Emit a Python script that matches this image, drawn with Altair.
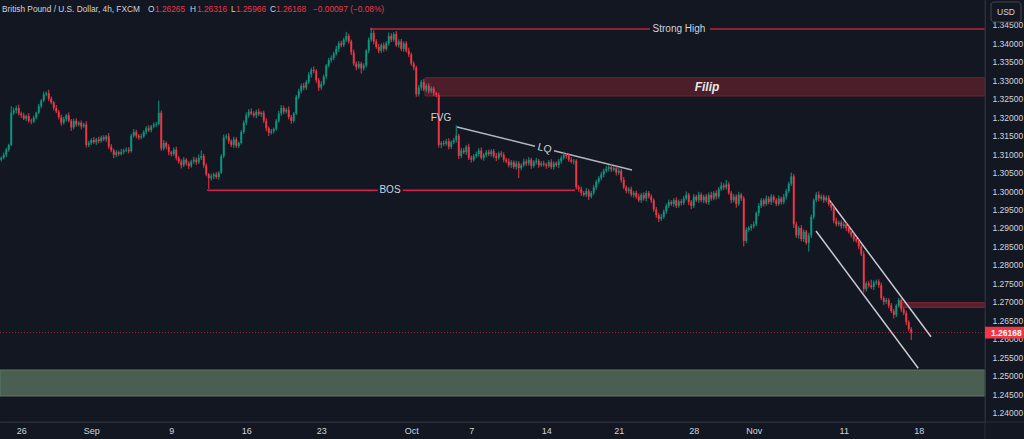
import json
import altair as alt
import pandas as pd

BG = "#131722"
UP = "#089981"
DN = "#f23645"
TXT = "#d1d4dc"
GRID = "#2a2e39"
FONT = "Liberation Sans"

# ---------------- candle data (pips above 1.2000) ----------------
first_open = 1085
closes = [
    1090, 1098, 1112, 1125, 1212, 1218, 1225, 1210, 1205, 1196,   # 0-9
    1203, 1190, 1188, 1199, 1212, 1230, 1245, 1262, 1265, 1250,   # 10-19
    1240, 1225, 1215, 1200, 1185, 1195, 1205, 1190, 1172, 1190,   # 20-29
    1180, 1185, 1175, 1180, 1125, 1130, 1138, 1132, 1140, 1135,   # 30-39
    1145, 1140, 1148, 1120, 1110, 1098, 1105, 1100, 1106, 1110,   # 40-49
    1112, 1108, 1150, 1160, 1150, 1145, 1148, 1160, 1170, 1165,   # 50-59
    1175, 1180, 1182, 1212, 1115, 1130, 1120, 1105, 1100, 1112,   # 60-69
    1090, 1080, 1070, 1085, 1075, 1068, 1080, 1085, 1078, 1090,   # 70-79
    1095, 1070, 1045, 1035, 1040, 1045, 1038, 1050, 1095, 1145,   # 80-89
    1148, 1135, 1125, 1140, 1122, 1130, 1160, 1185, 1205, 1215,   # 90-99
    1210, 1205, 1215, 1208, 1212, 1190, 1170, 1158, 1162, 1168,   # 100-109
    1190, 1210, 1225, 1215, 1220, 1200, 1190, 1210, 1255, 1270,   # 110-119
    1285, 1280, 1295, 1315, 1328, 1325, 1300, 1280, 1290, 1310,   # 120-129
    1340, 1355, 1360, 1372, 1385, 1400, 1395, 1410, 1420, 1405,   # 130-139
    1375, 1345, 1335, 1345, 1332, 1340, 1380, 1410, 1428, 1405,   # 140-149
    1390, 1380, 1395, 1385, 1400, 1420, 1410, 1425, 1395, 1405,   # 150-159
    1385, 1400, 1380, 1370, 1345, 1335, 1262, 1280, 1295, 1275,   # 160-169
    1285, 1270, 1278, 1265, 1260, 1125, 1130, 1128, 1135, 1120,   # 170-179
    1132, 1138, 1150, 1095, 1110, 1105, 1120, 1090, 1085, 1095,   # 180-189
    1100, 1110, 1090, 1098, 1105, 1100, 1108, 1095, 1090, 1102,   # 190-199
    1098, 1085, 1080, 1070, 1078, 1065, 1075, 1062, 1070, 1080,   # 200-209
    1075, 1085, 1068, 1078, 1082, 1070, 1075, 1072, 1068, 1078,   # 210-219
    1065, 1075, 1070, 1080, 1090, 1098, 1095, 1085, 1080, 1082,   # 220-229
    1010, 1005, 995, 990, 1000, 985, 995, 1010, 1025, 1035,       # 230-239
    1045, 1055, 1060, 1065, 1058, 1062, 1050, 1055, 1030, 1010,   # 240-249
    1000, 1005, 990, 995, 985, 975, 990, 980, 995, 985,           # 250-259
    975, 950, 935, 925, 930, 945, 960, 970, 965, 975,             # 260-269
    960, 972, 968, 980, 990, 970, 960, 985, 975, 990,             # 270-279
    975, 985, 970, 990, 980, 995, 985, 1005, 1015, 1010,          # 280-289
    1018, 995, 975, 985, 965, 990, 980, 865, 895, 900,            # 290-299
    905, 910, 940, 960, 975, 965, 980, 970, 985, 975,             # 300-309
    965, 980, 970, 985, 1000, 1020, 1040, 910, 880, 900,          # 310-319
    870, 890, 860, 880, 930, 975, 990, 980, 985, 975,             # 320-329
    982, 965, 955, 920, 910, 915, 905, 910, 900, 890,             # 330-339
    880, 870, 865, 850, 830, 735, 750, 745, 740, 752,             # 340-349
    755, 745, 710, 700, 705, 690, 675, 665, 690, 705,             # 350-359
    680, 670, 645, 626.5, 616.8,                                  # 360-364
]
upper_wick = [
    4, 6, 5, 3, 18, 8, 6, 9, 5, 7,
    4, 8, 6, 5, 3, 6, 4, 7, 5, 9,
    6, 4, 8, 5, 7, 6, 4, 8, 5, 6,
    7, 4, 6, 5, 9, 6, 5, 8, 4, 7,
    5, 6, 4, 9, 7, 5, 6, 4, 8, 5,
    6, 7, 5, 8, 6, 4, 7, 5, 6, 8,
    4, 6, 5, 33, 6, 8, 5, 7, 4, 6,
    8, 5, 6, 7, 4, 6, 5, 8, 6, 9,
    15, 6, 5, 4, 7, 5, 6, 4, 5, 8,
    6, 9, 5, 7, 6, 4, 5, 6, 8, 7,
    9, 6, 5, 8, 4, 6, 7, 5, 6, 4,
    5, 7, 8, 6, 5, 9, 6, 4, 5, 7,
    6, 8, 5, 7, 6, 9, 5, 6, 7, 5,
    4, 6, 7, 5, 8, 6, 7, 5, 11, 6,
    5, 8, 6, 7, 5, 6, 4, 6, 14, 7,
    6, 8, 5, 7, 6, 9, 7, 5, 8, 6,
    7, 5, 6, 8, 5, 6, 4, 7, 6, 8,
    5, 7, 6, 5, 4, 6, 5, 7, 6, 8,
    5, 6, 28, 5, 7, 6, 5, 8, 6, 5,
    7, 6, 8, 5, 6, 7, 5, 6, 8, 5,
    6, 7, 5, 8, 6, 5, 7, 6, 5, 8,
    6, 7, 5, 6, 8, 5, 6, 7, 5, 6,
    8, 6, 5, 7, 6, 9, 5, 6, 7, 5,
    4, 6, 7, 5, 8, 6, 5, 7, 6, 5,
    7, 6, 8, 5, 9, 6, 5, 7, 6, 8,
    5, 6, 7, 5, 6, 8, 5, 7, 6, 5,
    6, 5, 7, 6, 8, 5, 6, 7, 5, 6,
    8, 5, 6, 7, 9, 5, 6, 7, 5, 8,
    6, 5, 7, 6, 8, 5, 7, 6, 9, 6,
    12, 6, 5, 7, 6, 8, 5, 6, 7, 5,
    6, 8, 5, 7, 6, 5, 8, 6, 7, 5,
    6, 8, 5, 7, 6, 5, 10, 6, 7, 5,
    8, 6, 5, 7, 6, 5, 7, 9, 6, 5,
    6, 7, 5, 6, 8, 5, 6, 7, 5, 6,
    5, 7, 6, 5, 6, 8, 5, 7, 15, 6,
    5, 6, 7, 5, 6, 5, 7, 6, 5, 6,
    6, 5, 6, 5, 5.1,
]
lower_wick = [
    5, 4, 6, 5, 3, 6, 8, 5, 7, 4,
    6, 5, 7, 4, 5, 3, 6, 4, 5, 6,
    5, 7, 4, 6, 8, 5, 6, 4, 9, 5,
    6, 5, 8, 4, 7, 6, 5, 4, 7, 6,
    4, 5, 7, 6, 5, 9, 6, 5, 4, 7,
    5, 6, 4, 5, 7, 6, 5, 4, 6, 5,
    6, 5, 7, 4, 6, 5, 7, 8, 6, 5,
    7, 6, 9, 5, 6, 8, 5, 6, 7, 5,
    6, 7, 5, 29, 6, 8, 5, 7, 4, 6,
    5, 7, 6, 8, 5, 6, 4, 5, 6, 7,
    5, 6, 8, 5, 7, 6, 8, 9, 5, 6,
    4, 5, 6, 7, 5, 6, 8, 5, 4, 6,
    5, 7, 6, 5, 8, 6, 7, 9, 6, 5,
    6, 5, 7, 6, 5, 8, 6, 5, 7, 6,
    7, 6, 8, 5, 14, 6, 5, 7, 6, 8,
    5, 7, 6, 8, 5, 6, 7, 6, 5, 7,
    6, 8, 5, 7, 6, 8, 7, 6, 8, 5,
    7, 6, 5, 8, 6, 7, 9, 6, 5, 7,
    6, 5, 7, 8, 6, 5, 7, 6, 8, 5,
    6, 7, 5, 8, 6, 5, 7, 6, 9, 5,
    6, 7, 5, 6, 8, 5, 7, 27, 6, 5,
    7, 6, 8, 5, 6, 7, 5, 6, 8, 5,
    6, 7, 5, 8, 6, 5, 7, 6, 5, 8,
    6, 7, 8, 5, 6, 9, 5, 6, 7, 5,
    6, 8, 5, 7, 6, 5, 8, 6, 7, 5,
    6, 7, 5, 8, 6, 5, 7, 6, 8, 5,
    7, 6, 8, 9, 6, 5, 7, 6, 5, 8,
    6, 5, 7, 6, 5, 8, 9, 6, 5, 7,
    6, 8, 5, 7, 6, 5, 8, 6, 5, 7,
    6, 5, 8, 6, 10, 5, 7, 15, 6, 5,
    7, 6, 5, 8, 6, 7, 5, 6, 8, 7,
    6, 5, 7, 6, 8, 5, 6, 10, 7, 9,
    6, 8, 5, 24, 7, 6, 5, 8, 6, 7,
    5, 6, 8, 7, 6, 5, 7, 6, 8, 5,
    6, 7, 5, 8, 6, 10, 7, 6, 5, 8,
    6, 7, 5, 8, 6, 7, 5, 10, 6, 5,
    7, 6, 8, 6, 20.2,
]

# ---------------- axis data ----------------
tick_idx = [8, 36, 68, 98, 128, 164, 188, 218, 247, 277, 301, 337, 367]
tick_lbl = ["26", "Sep", "9", "16", "23", "Oct", "7", "14", "21", "28", "Nov", "11", "18"]
price_ticks = [1.240, 1.245, 1.250, 1.255, 1.260, 1.265, 1.270, 1.275, 1.280, 1.285,
               1.290, 1.295, 1.300, 1.305, 1.310, 1.315, 1.320, 1.325, 1.330, 1.335,
               1.340, 1.345]
last_price = 1.26168

# ---------------- annotation data (index, price) ----------------
strong_high_x0 = [147.5, 283.5]
strong_high_x1 = [259.5, 393.5]
strong_high_p = 1.34387
bos_x0 = [82.3, 160.6]
bos_x1 = [150.6, 229.5]
bos_p = 1.30020
lq_x0 = [182.3, 221.1]
lq_p0 = [1.31734, 1.31090]
lq_x1 = [213.5, 252.3]
lq_p1 = [1.31214, 1.30570]
ch_x0 = [331.2, 325.9]
ch_p0 = [1.29758, 1.28919]
ch_x1 = [371.9, 366.8]
ch_p1 = [1.26057, 1.25202]
filip_zone = dict(x0=169.5, x1=393.5, p0=1.32573, p1=1.33069)
small_zone = dict(x0=359.5, x1=393.5, p0=1.26853, p1=1.26978)
green_zone = dict(x0=-0.5, x1=393.5, p0=1.24452, p1=1.25156)
labels_txt = ["Strong High", "BOS", "FVG"]
labels_x = [271.1, 155.5, 175.9]
labels_p = [1.34387, 1.30020, 1.31978]

# ---------------- build tables ----------------
opens = [first_open] + closes[:-1]
rows = []
for k in range(len(closes)):
    o, c = opens[k], closes[k]
    rows.append({
        "i": k,
        "open": 1.2 + o / 1e4,
        "close": 1.2 + c / 1e4,
        "high": 1.2 + (max(o, c) + upper_wick[k]) / 1e4,
        "low": 1.2 + (min(o, c) - lower_wick[k]) / 1e4,
        "dir": "up" if c >= o else "down",
        "b0": k - 0.38,
        "b1": k + 0.38,
    })
df = pd.DataFrame(rows)

xscale = alt.Scale(domain=[-0.5, 393.5], nice=False, zero=False)
yscale = alt.Scale(domain=[1.23748, 1.35172], nice=False, zero=False)
label_expr = f"{json.dumps(tick_lbl)}[indexof({json.dumps(tick_idx)}, datum.value)]"
xaxis = alt.Axis(values=tick_idx, labelExpr=label_expr, grid=False, ticks=False,
                 domainColor=GRID, labelColor=TXT, labelFont=FONT, labelFontSize=9,
                 labelPadding=4, title=None, labelOverlap=False, labelFlush=False, zindex=0)
yaxis = alt.Axis(orient="right", values=price_ticks, format=".5f", grid=False, ticks=False,
                 domainColor=GRID, labelColor=TXT, labelFont=FONT, labelFontSize=8.5,
                 labelPadding=7, title=None, labelOverlap=False, labelFlush=False, zindex=0)


def X(f):
    return alt.X(f"{f}:Q", scale=xscale, axis=xaxis)


def Y(f):
    return alt.Y(f"{f}:Q", scale=yscale, axis=yaxis)


color = alt.Color("dir:N", scale=alt.Scale(domain=["up", "down"], range=[UP, DN]), legend=None)


def zone(z, fill, stroke):
    d = pd.DataFrame([z])
    return alt.Chart(d).mark_rect(fill=fill, stroke=stroke, strokeWidth=1).encode(
        x=X("x0"), x2="x1", y=Y("p0"), y2="p1")


green = zone(green_zone, "#4a5f52", "#5b7a63")
filip = zone(filip_zone, "#4b1e2a", "#6a2634")
small = zone(small_zone, "#5a1f2d", "#7d2a39")

cur_line = alt.Chart(pd.DataFrame({"x0": [-0.5], "x1": [393.5], "p": [last_price]})).mark_rule(
    color=DN, strokeDash=[1, 2], opacity=0.6, strokeWidth=1).encode(x=X("x0"), x2="x1", y=Y("p"))

sh = alt.Chart(pd.DataFrame({"x0": strong_high_x0, "x1": strong_high_x1,
                             "p": [strong_high_p] * 2})).mark_rule(
    color="#b8283a", strokeWidth=1.5).encode(x=X("x0"), x2="x1", y=Y("p"))
bos = alt.Chart(pd.DataFrame({"x0": bos_x0, "x1": bos_x1, "p": [bos_p] * 2})).mark_rule(
    color="#d61e50", strokeWidth=1.5).encode(x=X("x0"), x2="x1", y=Y("p"))
lq = alt.Chart(pd.DataFrame({"x0": lq_x0, "x1": lq_x1, "p0": lq_p0, "p1": lq_p1})).mark_rule(
    color="#b2b5be", strokeWidth=1.5).encode(x=X("x0"), x2="x1", y=Y("p0"), y2="p1")
ch = alt.Chart(pd.DataFrame({"x0": ch_x0, "x1": ch_x1, "p0": ch_p0, "p1": ch_p1})).mark_rule(
    color="#c8cad0", strokeWidth=1.5).encode(x=X("x0"), x2="x1", y=Y("p0"), y2="p1")

wicks = alt.Chart(df).mark_rule(strokeWidth=1).encode(x=X("i"), y=Y("low"), y2="high", color=color)
bodies = alt.Chart(df).mark_rect().encode(x=X("b0"), x2="b1", y=Y("open"), y2="close", color=color)

lbls = alt.Chart(pd.DataFrame({"t": labels_txt, "x": labels_x, "p": labels_p})).mark_text(
    font=FONT, fontSize=10, color=TXT, align="center", baseline="middle").encode(
    x=X("x"), y=Y("p"), text="t:N")
lq_lbl = alt.Chart(pd.DataFrame({"t": ["LQ"], "x": [217.3], "p": [1.31152]})).mark_text(
    font=FONT, fontSize=10.5, color=TXT, align="center", baseline="middle", angle=14).encode(
    x=X("x"), y=Y("p"), text="t:N")
filip_lbl = alt.Chart(pd.DataFrame({"t": ["Filip"], "x": [282.3], "p": [1.32817]})).mark_text(
    font=FONT, fontSize=12, fontWeight="bold", fontStyle="italic", color="#e8e8ea",
    align="center", baseline="middle").encode(x=X("x"), y=Y("p"), text="t:N")

# price-axis marker for the last price
pbox = alt.Chart(pd.DataFrame({"p0": [last_price - 0.0016], "p1": [last_price + 0.0016]})).mark_rect(
    color=DN, clip=False).encode(x=alt.value(985), x2=alt.value(1024), y=Y("p0"), y2="p1")
ptxt = alt.Chart(pd.DataFrame({"p": [last_price], "t": ["1.26168"]})).mark_text(
    font=FONT, fontSize=8.5, fontWeight="bold", color="white", align="left", baseline="middle").encode(
    x=alt.value(991), y=Y("p"), text="t:N")

# frame lines through axis areas
vline = alt.Chart(pd.DataFrame({"a": [0]})).mark_rule(color=GRID).encode(
    x=alt.value(985), y=alt.value(0), y2=alt.value(439))
hline = alt.Chart(pd.DataFrame({"a": [0]})).mark_rule(color=GRID).encode(
    x=alt.value(0), x2=alt.value(1024), y=alt.value(422))

# USD box
usd_box = alt.Chart(pd.DataFrame({"a": [0]})).mark_rect(
    fill=BG, stroke="#434651", cornerRadius=3, strokeWidth=1).encode(
    x=alt.value(991), x2=alt.value(1021), y=alt.value(2), y2=alt.value(22))
usd_txt = alt.Chart(pd.DataFrame({"t": ["USD"]})).mark_text(
    font=FONT, fontSize=8.5, color=TXT, align="center", baseline="middle").encode(
    x=alt.value(1006), y=alt.value(12), text="t:N")

# legend / title line
title_parts = ["British Pound / U.S. Dollar, 4h, FXCM", "O", "1.26265", "H", "1.26316",
               "L", "1.25966", "C", "1.26168", "\u22120.00097 (\u22120.08%)"]
title_colors = [TXT, TXT, DN, TXT, DN, TXT, DN, TXT, DN, DN]
title_px = [2, 148, 155, 190, 197, 231, 236, 270, 276, 313]
title_layers = []
for t, c, px in zip(title_parts, title_colors, title_px):
    title_layers.append(alt.Chart(pd.DataFrame({"t": [t]})).mark_text(
        font=FONT, fontSize=8.3, color=c, align="left", baseline="middle").encode(
        x=alt.value(px), y=alt.value(10), text="t:N"))

chart = alt.layer(
    green, filip, small, cur_line, sh, bos, lq, ch, wicks, bodies,
    lbls, lq_lbl, filip_lbl, vline, hline, pbox, ptxt, usd_box, usd_txt, *title_layers,
).properties(
    width=985, height=422,
    padding={"left": 0, "top": 0, "right": 39, "bottom": 17},
    autosize=alt.AutoSizeParams(type="none"),
    background=BG,
).configure_view(stroke=None)

chart.save("out.html", embed_options={"renderer": "svg", "actions": False})
